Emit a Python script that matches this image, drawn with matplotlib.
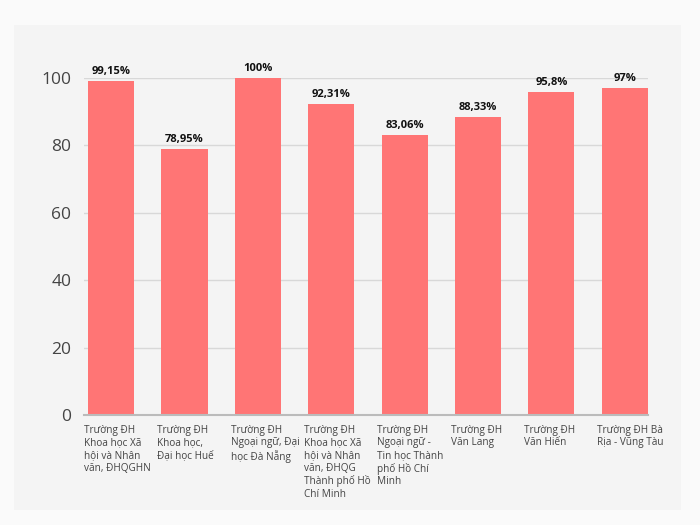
import matplotlib

matplotlib.use("Agg")
import matplotlib.pyplot as plt
from matplotlib.patches import Rectangle

LABELS = [
    "Trường ĐH\nKhoa học Xã\nhội và Nhân\nvăn, ĐHQGHN",
    "Trường ĐH\nKhoa học,\nĐại học Huế",
    "Trường ĐH\nNgoại ngữ, Đại\nhọc Đà Nẵng",
    "Trường ĐH\nKhoa học Xã\nhội và Nhân\nvăn, ĐHQG\nThành phố Hồ\nChí Minh",
    "Trường ĐH\nNgoại ngữ -\nTin học Thành\nphố Hồ Chí\nMinh",
    "Trường ĐH\nVăn Lang",
    "Trường ĐH\nVăn Hiến",
    "Trường ĐH Bà\nRịa - Vũng Tàu",
]
VALUES = [99.15, 78.95, 100, 92.31, 83.06, 88.33, 95.8, 97]
VALUE_TEXT = ["99,15%", "78,95%", "100%", "92,31%", "83,06%", "88,33%", "95,8%", "97%"]
YTICKS = [0, 20, 40, 60, 80, 100]

BAR_COLOR = "#ff7575"
BAR_WIDTH = 0.63

plt.rcParams["font.family"] = ["Open Sans", "DejaVu Sans"]

fig = plt.figure(figsize=(7, 5.25), dpi=100)
fig.patch.set_facecolor("#fafafa")
fig.patches.append(
    Rectangle((0.02, 0.0286), 0.953, 0.924, transform=fig.transFigure,
              facecolor="#f4f4f4", edgecolor="none", zorder=-10)
)

ax = fig.add_axes([0.12, 0.2095, 0.806, 0.6419])
ax.set_facecolor("none")

x = list(range(len(VALUES)))
ax.bar(x, VALUES, width=BAR_WIDTH, color=BAR_COLOR, zorder=2)

for xi, v, t in zip(x, VALUES, VALUE_TEXT):
    ax.annotate(t, (xi, v), xytext=(0, 3), textcoords="offset points",
                ha="center", va="bottom", fontsize=8, fontweight="bold",
                color="#111111", annotation_clip=False)

for xi, lab in zip(x, LABELS):
    ax.annotate(lab, (xi - BAR_WIDTH / 2, 0), xytext=(-3, -7),
                textcoords="offset points", ha="left", va="top",
                fontsize=7.2, color="#444444", linespacing=1.2,
                annotation_clip=False)

ax.set_xlim(-0.37, 7.32)
ax.set_ylim(0, 100)
ax.set_yticks(YTICKS)
ax.set_xticks([])
ax.tick_params(axis="y", length=0, pad=9, labelsize=12.5, labelcolor="#444444")
ax.yaxis.grid(True, color="#d8d8d8", linewidth=1, zorder=0)
ax.set_axisbelow(True)
for side in ["left", "right", "top"]:
    ax.spines[side].set_visible(False)
ax.spines["bottom"].set_color("#bbbbbb")
ax.spines["bottom"].set_linewidth(1.5)

fig.savefig("out.png", dpi=100, facecolor=fig.get_facecolor())
